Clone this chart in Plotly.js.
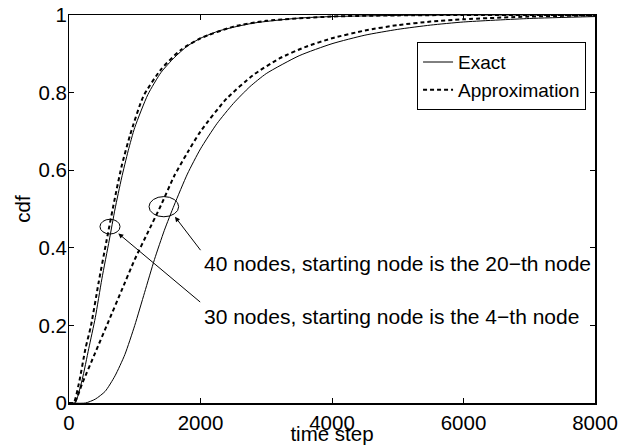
<!DOCTYPE html>
<html>
<head>
<meta charset="utf-8">
<script src="https://cdn.plot.ly/plotly-3.0.1.min.js"></script>
<style>html,body{margin:0;padding:0;background:#fff;}#chart{width:631px;height:445px;}</style>
</head>
<body>
<div id="chart"></div>
<script>
// ---- data ----
const exact30_t = [0, 90, 200, 300, 400, 500, 613, 700, 800, 900, 1000, 1200, 1400, 1600, 1800, 2000, 2300, 2800, 3500, 4000, 5000, 6000, 8000];
const exact30_y = [0, 0, 0.06, 0.14, 0.22, 0.32, 0.42, 0.50, 0.58, 0.65, 0.71, 0.795, 0.852, 0.89, 0.92, 0.94, 0.96, 0.979, 0.992, 0.996, 0.999, 1.0, 1.0];

const approx30_t = [0, 70, 150, 250, 335, 450, 573, 700, 800, 928, 1130, 1400, 1700, 2000, 2500, 3000, 4000, 5000, 6000, 8000];
const approx30_y = [0, 0, 0.05, 0.14, 0.20, 0.31, 0.42, 0.53, 0.61, 0.69, 0.79, 0.86, 0.91, 0.94, 0.97, 0.985, 0.996, 0.999, 1.0, 1.0];

const exact40_t = [0, 250, 400, 550, 700, 850, 1000, 1150, 1300, 1450, 1600, 1800, 2000, 2250, 2500, 2750, 3000, 3500, 4000, 4500, 5000, 5500, 6000, 7000, 8000];
const exact40_y = [0, 0, 0.01, 0.03, 0.07, 0.125, 0.20, 0.285, 0.37, 0.445, 0.51, 0.59, 0.655, 0.72, 0.772, 0.815, 0.849, 0.895, 0.926, 0.948, 0.963, 0.974, 0.982, 0.991, 0.996];

const approx40_t = [0, 80, 200, 400, 600, 800, 1000, 1200, 1400, 1600, 1800, 2000, 2400, 2800, 3200, 3600, 4000, 4500, 5000, 5500, 6000, 7000, 8000];
const approx40_y = [0, 0, 0.05, 0.13, 0.21, 0.29, 0.37, 0.44, 0.51, 0.585, 0.645, 0.70, 0.785, 0.845, 0.888, 0.918, 0.94, 0.96, 0.974, 0.983, 0.989, 0.996, 0.999];

const xTicks = [0, 2000, 4000, 6000, 8000];
const yTicks = [0, 0.2, 0.4, 0.6, 0.8, 1];
const yTickText = ["0", "0.2", "0.4", "0.6", "0.8", "1"];
const seriesNames = ["Exact", "Approximation"];
const label40 = "40 nodes, starting node is the 20\u2212th node";
const label30 = "30 nodes, starting node is the 4\u2212th node";

// ---- chart ----
const FONT = "Liberation Sans, Arial, Helvetica, sans-serif";
const solid = {color: "#000", width: 1, shape: "spline", smoothing: 0.6};
const dashed = {color: "#000", width: 2, dash: "4px,3px", shape: "spline", smoothing: 0.6};

const traces = [
  {x: exact30_t, y: exact30_y, mode: "lines", line: solid, name: seriesNames[0], legendgroup: "e", showlegend: true},
  {x: approx30_t, y: approx30_y, mode: "lines", line: dashed, name: seriesNames[1], legendgroup: "a", showlegend: true},
  {x: exact40_t, y: exact40_y, mode: "lines", line: solid, name: seriesNames[0], legendgroup: "e", showlegend: false, yaxis: "y2"},
  {x: approx40_t, y: approx40_y, mode: "lines", line: dashed, name: seriesNames[1], legendgroup: "a", showlegend: false, yaxis: "y2"}
];

const axisCommon = {
  showline: true, linecolor: "#000", linewidth: 1.5, mirror: "ticks",
  ticks: "inside", ticklen: 5, tickwidth: 1, tickcolor: "#000",
  showgrid: false, zeroline: false,
  tickfont: {family: FONT, size: 20.5, color: "#000"}
};

const layout = {
  width: 631, height: 445,
  margin: {l: 69, r: 36, t: 15, b: 42},
  paper_bgcolor: "#fff", plot_bgcolor: "#fff",
  font: {family: FONT, size: 20, color: "#000"},
  xaxis: Object.assign({}, axisCommon, {
    range: [0, 8000], tickvals: xTicks, ticktext: xTicks.map(String),
    ticklabelstandoff: 1,
    title: {text: "time step", font: {family: FONT, size: 20.5, color: "#000"}, standoff: 5}
  }),
  // main y axis: box line and inside ticks
  yaxis: Object.assign({}, axisCommon, {
    range: [0, 1], tickvals: yTicks, showticklabels: false
  }),
  // label axis on the same scale, so the labels sit close to the box as in the original
  yaxis2: {
    overlaying: "y", anchor: "free", position: 0, side: "left",
    range: [0, 1], tickvals: yTicks, ticktext: yTickText,
    showline: false, ticks: "", showgrid: false, zeroline: false,
    ticklabelstandoff: 2,
    tickfont: {family: FONT, size: 20.5, color: "#000"},
    title: {text: "cdf", font: {family: FONT, size: 20.5, color: "#000"}, standoff: 1}
  },
  legend: {
    x: 0.983, y: 0.93, xanchor: "right", yanchor: "top",
    bordercolor: "#000", borderwidth: 1, bgcolor: "#fff",
    font: {family: FONT, size: 19, color: "#000"},
    itemwidth: 30, tracegroupgap: 0
  },
  showlegend: true,
  shapes: [
    {type: "circle", xref: "x", yref: "y", x0: 471, x1: 776, y0: 0.4356, y1: 0.4735, line: {color: "#000", width: 1}},
    {type: "circle", xref: "x", yref: "y", x0: 1217, x1: 1668, y0: 0.480, y1: 0.532, line: {color: "#000", width: 1}}
  ],
  annotations: [
    {x: 1612, y: 0.48, ax: 2018, ay: 0.39, xref: "x", yref: "y", axref: "x", ayref: "y", text: "", showarrow: true, arrowhead: 2, arrowsize: 1, arrowwidth: 1, arrowcolor: "#000"},
    {x: 750, y: 0.437, ax: 2018, ay: 0.257, xref: "x", yref: "y", axref: "x", ayref: "y", text: "", showarrow: true, arrowhead: 2, arrowsize: 1, arrowwidth: 1, arrowcolor: "#000"},
    {x: 2020, y: 0.36, xref: "x", yref: "y", text: label40, showarrow: false, xanchor: "left", yanchor: "middle", font: {family: FONT, size: 21, color: "#000"}},
    {x: 2020, y: 0.222, xref: "x", yref: "y", text: label30, showarrow: false, xanchor: "left", yanchor: "middle", font: {family: FONT, size: 21, color: "#000"}}
  ]
};

Plotly.newPlot("chart", traces, layout, {staticPlot: true, displayModeBar: false});
</script>
</body>
</html>
